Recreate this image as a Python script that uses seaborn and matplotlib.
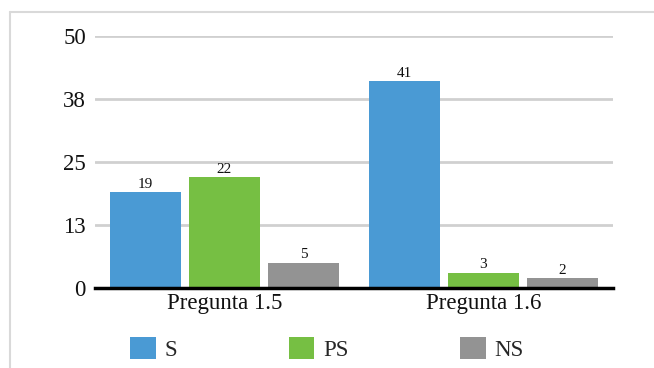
import matplotlib
matplotlib.use("Agg")
import matplotlib.pyplot as plt
import seaborn as sns
import pandas as pd
from matplotlib.patches import Patch
from matplotlib.lines import Line2D

categories = ["Pregunta 1.5", "Pregunta 1.6"]
series_names = ["S", "PS", "NS"]
values_S = [19, 41]
values_PS = [22, 3]
values_NS = [5, 2]
tick_values = [0, 12.5, 25, 37.5, 50]
tick_labels = ["0", "13", "25", "38", "50"]
colors = ["#4A9AD4", "#76BF43", "#939393"]

rows = []
for name, vals in zip(series_names, [values_S, values_PS, values_NS]):
    for c, v in zip(categories, vals):
        rows.append({"Pregunta": c, "Serie": name, "Valor": v})
df = pd.DataFrame(rows)

sns.set_theme(style="white")
plt.rcParams["font.family"] = ["Liberation Serif", "DejaVu Serif"]

fig = plt.figure(figsize=(6.54, 3.68), dpi=100)
ax = fig.add_axes([95/654, 80/368, (613-95)/654, (288-36)/368])

sns.barplot(data=df, x="Pregunta", y="Valor", hue="Serie", order=categories,
            hue_order=series_names, palette=colors, width=0.915, gap=0.1,
            saturation=1, ax=ax, legend=False, linewidth=0)

for cont in ax.containers:
    ax.bar_label(cont, fmt="%d", padding=1, fontsize=11, color="#111111")

ax.set_ylim(0, 50)
ax.set_xlim(-0.5, 1.5)
ax.set_yticks(tick_values)
ax.set_yticklabels(tick_labels)
ax.yaxis.grid(True, color="#D0D0D0", linewidth=2)
ax.set_axisbelow(True)
ax.set_xlabel("")
ax.set_ylabel("")
for s in ["top", "right", "left"]:
    ax.spines[s].set_visible(False)
ax.spines["bottom"].set_color("black")
ax.spines["bottom"].set_linewidth(2.5)
ax.tick_params(axis="y", length=0, pad=6.5, labelsize=16.5, labelcolor="#111111")
ax.tick_params(axis="x", length=0, pad=3.5, labelsize=16.5, labelcolor="#111111")

handles = [Patch(facecolor=c, edgecolor="none") for c in colors]
fig.legend(handles, series_names, loc="center left", bbox_to_anchor=(130/654, 19/368),
           ncol=3, frameon=False, fontsize=16.5, handlelength=1.13, handleheight=1.13,
           handletextpad=0.39, columnspacing=4.85, borderaxespad=0, borderpad=0)

# outer chart frame
fig.add_artist(Line2D([10/654, 1.0], [1 - 12/368, 1 - 12/368], transform=fig.transFigure,
                      color="#D9D9D9", linewidth=1.5))
fig.add_artist(Line2D([10/654, 10/654], [0, 1 - 12/368], transform=fig.transFigure,
                      color="#D9D9D9", linewidth=1.5))

fig.savefig("out.png", dpi=100)
